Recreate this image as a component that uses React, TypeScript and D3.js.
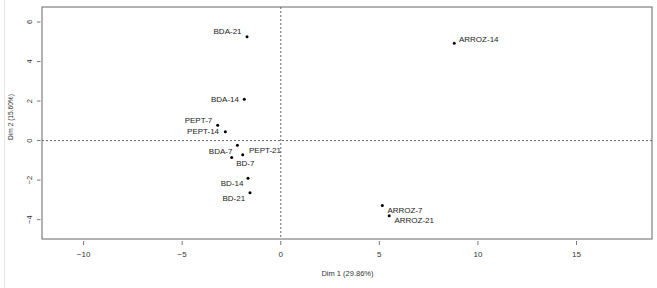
import React from "react";
import * as d3 from "d3";

const labels = ["BDA-21", "BDA-14", "PEPT-7", "PEPT-14", "BDA-7", "PEPT-21", "BD-7", "BD-14", "BD-21", "ARROZ-14", "ARROZ-7", "ARROZ-21"];
const dim1 = [-1.71, -1.85, -3.2, -2.81, -2.2, -1.93, -2.49, -1.66, -1.56, 8.8, 5.15, 5.5];
const dim2 = [5.26, 2.09, 0.77, 0.45, -0.24, -0.72, -0.85, -1.91, -2.64, 4.92, -3.28, -3.8];
const xTicks = [-10, -5, 0, 5, 10, 15];
const yTicks = [-4, -2, 0, 2, 4, 6];
const xTitle = "Dim 1 (29.86%)";
const yTitle = "Dim 2 (15.60%)";

// label placement offsets (px) relative to each point
const labelDx = [-19.5, -19.3, -19.2, -22.3, -16.8, 22.3, 13.6, -16, -16.2, 24.5, 22.7, 25];
const labelDy = [-4.7, 0.7, -5, 0.3, 6, -4.7, 6, 5, 6, -4, 4.7, 5];

const W = 657, H = 288;
const L = 42, R = 652, T = 7, B = 239;

export default function App() {
  const x = d3.scaleLinear().domain([-12.11, 18.83]).range([L, R]);
  const y = d3.scaleLinear().domain([-4.98, 6.76]).range([B, T]);
  const fmt = (v: number) => (v < 0 ? "\u2212" + Math.abs(v) : String(v));
  const font = "'Liberation Sans', Arial, Helvetica, sans-serif";
  return (
    <svg width={W} height={H} style={{ position: "absolute", left: 0, top: 0, background: "#fff" }} fontFamily={font}>
      <rect x={0} y={0} width={W} height={H} fill="#fff" />
      <line x1={4.5} x2={4.5} y1={0} y2={H} stroke="#e6e6e6" strokeWidth={1} />
      {/* zero lines */}
      <line x1={x(0)} x2={x(0)} y1={T} y2={B} stroke="#555" strokeWidth={0.9} strokeDasharray="2,2" />
      <line x1={L} x2={R} y1={y(0)} y2={y(0)} stroke="#555" strokeWidth={0.9} strokeDasharray="2,2" />
      {/* box */}
      <rect x={L} y={T} width={R - L} height={B - T} fill="none" stroke="#666" strokeWidth={1} />
      {/* x axis ticks */}
      {xTicks.map((t) => (
        <g key={"x" + t}>
          <line x1={x(t)} x2={x(t)} y1={B + 2} y2={B + 6} stroke="#555" strokeWidth={0.8} />
          <text x={x(t)} y={254} textAnchor="middle" dominantBaseline="central" fontSize={8} fill="#333">{fmt(t)}</text>
        </g>
      ))}
      {/* y axis ticks */}
      {yTicks.map((t) => (
        <g key={"y" + t}>
          <line x1={L - 5} x2={L - 1.5} y1={y(t)} y2={y(t)} stroke="#555" strokeWidth={0.8} />
          <text transform={`translate(29.5,${y(t)}) rotate(-90)`} textAnchor="middle" dominantBaseline="central" fontSize={7.5} fill="#333">{fmt(t)}</text>
        </g>
      ))}
      <text x={347.5} y={273} textAnchor="middle" dominantBaseline="central" fontSize={7.5} fill="#333">{xTitle}</text>
      <text transform={`translate(10,117) rotate(-90)`} textAnchor="middle" dominantBaseline="central" fontSize={6.6} fill="#333">{yTitle}</text>
      {/* points */}
      {labels.map((lab, i) => (
        <g key={lab}>
          <circle cx={x(dim1[i])} cy={y(dim2[i])} r={1.5} fill="#000" />
          <text x={x(dim1[i]) + labelDx[i]} y={y(dim2[i]) + labelDy[i]} textAnchor="middle" dominantBaseline="central" fontSize={8} fill="#222">{lab}</text>
        </g>
      ))}
    </svg>
  );
}
